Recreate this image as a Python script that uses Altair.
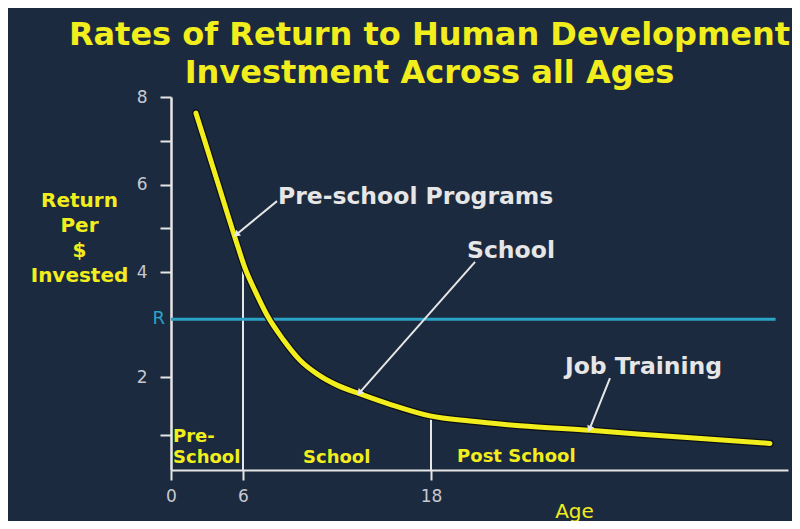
import altair as alt
import pandas as pd

# ---------------- data ----------------
age = [2.08, 2.92, 3.75, 4.58, 5.42, 6.13, 6.77, 7.53, 8.55, 9.64, 10.72,
       12.0, 13.47, 15.38, 17.94, 20.51, 23.73, 28.24, 34.04, 39.84]
ret = [7.63, 6.90, 6.17, 5.44, 4.71, 4.09, 3.64, 3.18, 2.72, 2.32, 2.06,
       1.86, 1.71, 1.53, 1.33, 1.24, 1.16, 1.08, 0.94, 0.76]

r_level = 3.1
r_span = [0, 40.2]

stage_ages = [6, 18]
stage_tops = [4.15, 1.33]

x_ticks = [0, 6, 18]
y_ticks = [1, 2, 4, 5, 6, 7, 8]

title_lines = ["Rates of Return to Human Development", "Investment Across all Ages"]
y_title = ["Return", "Per", "$", "Invested"]
x_title = "Age"

# annotations (text, x, y)
note_text = ["Pre-school Programs", "School", "Job Training"]
note_x = [8.23, 20.32, 26.63]
note_y = [5.55, 4.32, 2.06]

# arrows: tail (x, y) -> tip (x2, y2)
arrow_x = [8.17, 20.84, 29.53]
arrow_y = [5.62, 4.23, 1.98]
arrow_x2 = [5.5, 13.47, 28.24]
arrow_y2 = [4.87, 1.74, 1.12]
arrow_angle = [230.5, 221.3, 202.2]

stage_text = ["Pre-", "School", "School", "Post School"]
stage_x = [0.17, 0.17, 9.83, 19.68]
stage_y = [0.8, 0.2, 0.2, 0.23]

# ---------------- styles ----------------
BG = "#1c2a3f"
YELLOW = "#f2ee1e"
WHITE = "#e6e6e6"
GRAY = "#c6c9cf"
CYAN = "#2aa3c6"
FONT = "DejaVu Sans"

xs = alt.Scale(domain=[0, 6, 18, 41], range=[0, 72, 260, 617], nice=False, zero=False)
ys = alt.Scale(domain=[0, 1, 2, 4, 8], range=[373, 338, 280, 175, 0], nice=False, zero=False)

x_axis = alt.Axis(values=x_ticks, title=x_title, titleX=403, titleY=47,
                  titleAlign="center", titleBaseline="alphabetic",
                  titleColor=YELLOW, titleFontSize=20, titleFontWeight="normal",
                  titleFont=FONT, labelColor=GRAY, labelFontSize=17, labelFont=FONT,
                  labelPadding=8, tickSize=10, tickWidth=2, tickColor=WHITE,
                  domainColor=WHITE, domainWidth=2, grid=False, labelFlush=False)
y_axis = alt.Axis(values=y_ticks,
                  labelExpr="datum.value % 2 == 0 ? datum.label : ''",
                  title=y_title, titleAngle=0, titleX=-92, titleY=109,
                  titleAlign="center", titleBaseline="alphabetic", titleLineHeight=25,
                  titleColor=YELLOW, titleFontSize=20, titleFontWeight="bold",
                  titleFont=FONT, labelColor=GRAY, labelFontSize=17, labelFont=FONT,
                  labelPadding=13, tickSize=11, tickWidth=2, tickColor=WHITE,
                  domainColor=WHITE, domainWidth=2.5, grid=False, labelFlush=False)

X = alt.X("x:Q", scale=xs, axis=x_axis)
Y = alt.Y("y:Q", scale=ys, axis=y_axis)

curve_df = pd.DataFrame({"x": age, "y": ret})
stage_df = pd.DataFrame({"x": stage_ages, "y": [0] * len(stage_ages), "y2": stage_tops})
r_df = pd.DataFrame({"x": [r_span[0]], "x2": [r_span[1]], "y": [r_level]})
note_df = pd.DataFrame({"x": note_x, "y": note_y, "t": note_text})
stage_lab_df = pd.DataFrame({"x": stage_x, "y": stage_y, "t": stage_text})

layers = []

# stage dividers
layers.append(alt.Chart(stage_df).mark_rule(color=WHITE, strokeWidth=2).encode(
    x=X, y=Y, y2="y2:Q"))

# R line
layers.append(alt.Chart(r_df).mark_rule(color=CYAN, strokeWidth=3).encode(
    x=X, x2="x2:Q", y=Y))
layers.append(alt.Chart(r_df).mark_text(text="R", color=CYAN, font=FONT, fontSize=18,
                                        align="right", baseline="middle", dx=-6).encode(
    x=X, y=Y))

# curve (dark edge + yellow)
layers.append(alt.Chart(curve_df).mark_line(color="#0b0f16", strokeWidth=7.5,
                                            interpolate="monotone", strokeCap="round").encode(x=X, y=Y))
layers.append(alt.Chart(curve_df).mark_line(color=YELLOW, strokeWidth=5,
                                            interpolate="monotone", strokeCap="round").encode(x=X, y=Y))

# arrows
for i in range(len(arrow_x)):
    a_df = pd.DataFrame({"x": [arrow_x[i]], "y": [arrow_y[i]],
                         "x2": [arrow_x2[i]], "y2": [arrow_y2[i]]})
    layers.append(alt.Chart(a_df).mark_rule(color=WHITE, strokeWidth=2).encode(
        x=X, y=Y, x2="x2:Q", y2="y2:Q"))
    h_df = pd.DataFrame({"x": [arrow_x2[i]], "y": [arrow_y2[i]]})
    layers.append(alt.Chart(h_df).mark_point(shape="triangle", filled=True, color=WHITE,
                                             opacity=1, size=55, angle=arrow_angle[i]).encode(
        x=X, y=Y))

# annotation labels
layers.append(alt.Chart(note_df).mark_text(color=WHITE, font=FONT, fontSize=23.5,
                                           fontWeight="bold", align="left",
                                           baseline="alphabetic").encode(
    x=X, y=Y, text="t:N"))

# stage labels
layers.append(alt.Chart(stage_lab_df).mark_text(color=YELLOW, font=FONT, fontSize=18,
                                                fontWeight="bold", align="left",
                                                baseline="alphabetic").encode(
    x=X, y=Y, text="t:N"))

chart = alt.layer(*layers).properties(
    width=617, height=373,
    background=BG,
    padding={"left": 163, "top": 89, "right": 4, "bottom": 51},
    autosize=alt.AutoSizeParams(type="none"),
    title=alt.TitleParams(text=title_lines, font=FONT, fontSize=32, fontWeight="bold",
                          color=YELLOW, anchor="middle", frame="group", dx=-50, dy=41,
                          offset=14, baseline="alphabetic", lineHeight=38),
).configure_view(stroke=None)

chart.save("out.html", embed_options={"renderer": "svg", "actions": False})
